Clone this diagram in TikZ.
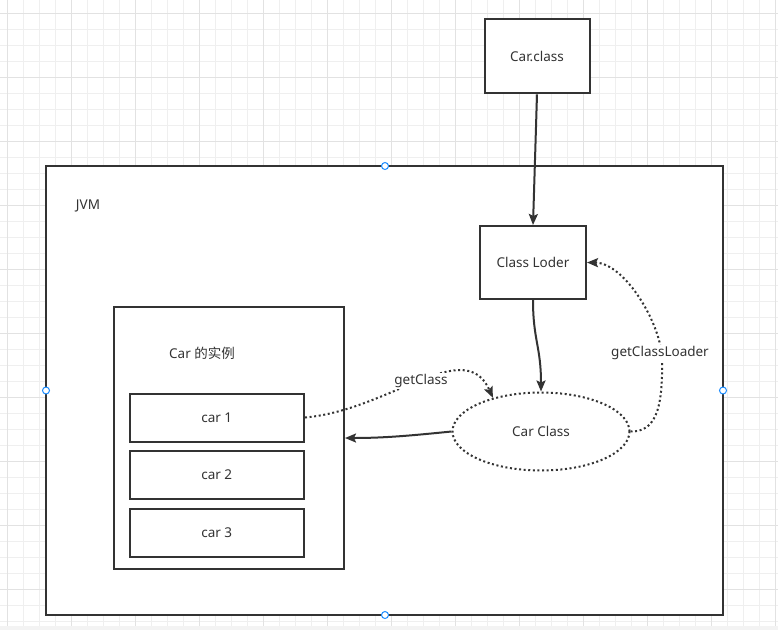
\documentclass[tikz,border=0pt]{standalone}
\usepackage{fontspec}
\setmainfont{Noto Sans}
\newfontfamily\cjk{Noto Sans CJK SC}
\usetikzlibrary{arrows.meta,shapes.geometric}
\definecolor{ink}{HTML}{333333}
\definecolor{gridminor}{HTML}{EFEFEF}
\definecolor{gridmajor}{HTML}{E2E2E2}
\definecolor{handle}{HTML}{1A8CFF}
\definecolor{band}{HTML}{F3F3F3}
\tikzset{
  box/.style={draw=ink, line width=2pt, fill=white, inner sep=0pt, text=ink, font=\fontsize{13.5}{16}\selectfont},
  lbl/.style={text=ink, inner sep=1pt, font=\fontsize{13.5}{16}\selectfont},
  edgelbl/.style={text=ink, fill=white, inner sep=1pt, font=\fontsize{13.5}{16}\selectfont},
  solidedge/.style={draw=ink, line width=2pt, -{Stealth[length=11pt,width=9pt,inset=2pt]}},
  dotedge/.style={draw=ink, line width=2pt, dash pattern=on 2pt off 2.6pt, -{Stealth[length=11pt,width=9pt,inset=2pt]}},
  grip/.style={circle, draw=handle, line width=1pt, fill=white, minimum size=7pt, inner sep=0pt},
}
\begin{document}
\begin{tikzpicture}[x=1pt,y=-1pt]
\useasboundingbox (0,0) rectangle (778,630);
\fill[white] (0,0) rectangle (778,630);
% grid
\foreach \i in {0,...,48} { \draw[gridminor, line width=1pt] ({7.3+16*\i},0) -- ({7.3+16*\i},626); }
\foreach \i in {0,...,38} { \draw[gridminor, line width=1pt] (0,{13.3+16*\i}) -- (778,{13.3+16*\i}); }
\foreach \i in {0,...,12} { \draw[gridmajor, line width=1pt] ({7.3+64*\i},0) -- ({7.3+64*\i},626); }
\foreach \i in {0,...,9} { \draw[gridmajor, line width=1pt] (0,{13.3+64*\i}) -- (778,{13.3+64*\i}); }
\fill[band] (0,626) rectangle (778,630);

% containers
\node[box, minimum width=677pt, minimum height=449pt] (jvm) at (384.5,390.5) {};
\node[lbl] (jvmlbl) at (88,206) {JVM};
\node[box, minimum width=230pt, minimum height=262pt] (inst) at (229,438) {};
\node[lbl] (instlbl) at (202,353) {Car {\cjk 的实例}};
\node[box, minimum width=174.5pt, minimum height=48pt] (car1) at (216.75,417.5) {car 1};
\node[box, minimum width=174.5pt, minimum height=48pt] (car2) at (216.75,474.7) {car 2};
\node[box, minimum width=174.5pt, minimum height=48pt] (car3) at (216.75,532.5) {car 3};

\node[box, minimum width=105pt, minimum height=74pt] (cc) at (537,56.3) {Car.class};
\node[box, minimum width=106pt, minimum height=73pt] (cl) at (533,262.5) {Class Loder};
\node[box, ellipse, fill=white, draw=ink, dash pattern=on 2pt off 2.6pt, minimum width=177pt, minimum height=78pt] (ce) at (541,431.5) {Car Class};

% edges
\draw[solidedge] (cc.south) -- (cl.north);
\draw[solidedge] (cl.south) .. controls +(0,40) and +(0,-45) .. (ce.north);
\draw[solidedge] (ce.west) .. controls +(-40,4) and +(40,0) .. (inst.east);
\draw[dotedge] (car1.east) .. controls (390,410) and (465,335) .. (ce.145);
\draw[dotedge] (ce.east) .. controls (655,432) and (663,410) .. (662,360) .. controls (662,325) and (625,263) .. (cl.east);
\node[edgelbl] (gcl) at (421,381) {getClass};
\node[edgelbl] (gcll) at (660,353) {getClassLoader};

% selection handles
\node[grip] (h1) at (385,166) {};
\node[grip] (h2) at (46,390.5) {};
\node[grip] (h3) at (723,390.5) {};
\node[grip] (h4) at (385,615) {};
\end{tikzpicture}
\end{document}
